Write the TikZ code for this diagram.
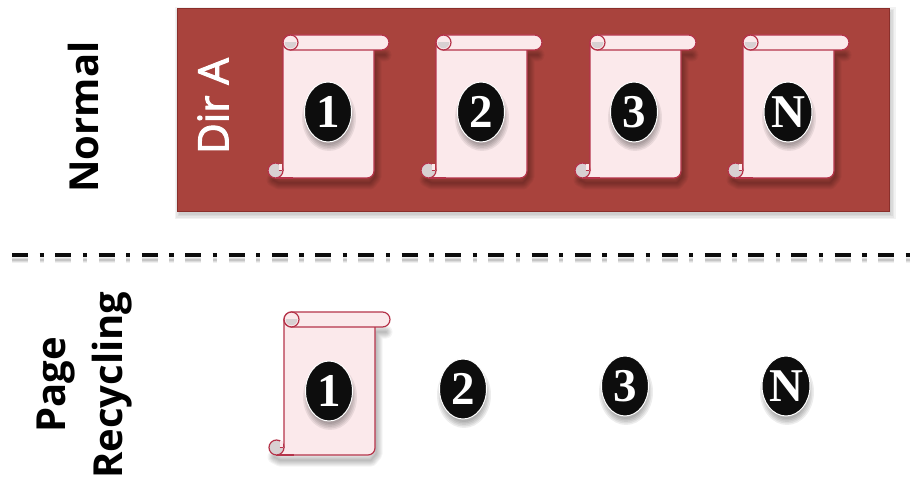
\documentclass[tikz,border=0pt]{standalone}
\usepackage{fontspec}
\setmainfont{Open Sans}
\newfontfamily\numfont{Liberation Serif}
\newfontfamily\dirfont[FakeBold=2.5]{Open Sans}
\usetikzlibrary{calc,shapes.geometric}
\definecolor{dirfill}{HTML}{A9433D}
\definecolor{dirline}{HTML}{8A2F2B}
\definecolor{scrollfill}{HTML}{FBE9EB}
\definecolor{scrollline}{HTML}{B5344A}
\definecolor{curlfill}{HTML}{D8D0D2}
\definecolor{badgefill}{HTML}{0D0D0D}
\tikzset{
  x=1pt,y=-1pt,
  dirbox/.style={draw=dirline,line width=1pt,fill=dirfill},
  sideLabel/.style={font=\fontsize{40}{57}\selectfont\bfseries,rotate=90,align=center,text=black},
  dirLabel/.style={font=\dirfont\fontsize{42}{50}\selectfont,rotate=90,text=white},
  badge/.style={ellipse,minimum width=47pt,minimum height=60pt,inner sep=0pt,fill=badgefill,draw=white,line width=1pt,text=white,font=\numfont\fontsize{47}{48}\selectfont\bfseries},
  scrollpart/.style={draw=scrollline,line width=1.2pt,fill=scrollfill,line join=round},
  divider/.style={line width=4pt,dash pattern=on 16pt off 11.5pt on 4.3pt off 11.5pt,draw=#1},
}
\newcommand{\scrollshape}[2]{%
  \begin{scope}[shift={(#1,#2)}]
    % soft shadow
    \foreach \w in {1,3,5,7,9,11,13}{
      \draw[black,draw opacity=0.045,line width=\w pt,line join=round,line cap=round,shift={(2,5)}]
        (-12,140) -- (-6,143) -- (85,143) -- (90,137) -- (90,15) -- (100,15);
    }
    % body
    \draw[scrollpart] (0,8) -- (0,143) [rounded corners=7] -- (91,143) -- (91,8) [sharp corners] -- cycle;
    \fill[scrollfill] (-8,136) rectangle (1,142.4);
    \draw[scrollline,line width=1.2pt] (-8,143) -- (10,143);
    % top roll
    \draw[scrollpart,rounded corners=7.5] (0,0) rectangle (106,15);
    % top curl
    \fill[scrollfill] (7.5,7.5) circle[radius=7];
    \begin{scope}
      \clip (0,8) rectangle (15,15);
      \fill[curlfill] (7.5,7.5) circle[radius=5.8];
    \end{scope}
    \draw[scrollline,line width=1.2pt] (7.5,7.5) circle[radius=7.5];
    % bottom curl
    \draw[scrollline,line width=1.2pt,fill=curlfill] (-7.5,135.5) circle[radius=7.5];
    \fill[scrollfill] (-4.5,129) rectangle (-0.6,135);
    \draw[scrollline,line width=.8pt] (-4.5,135) -- (-0.6,135);
  \end{scope}}
\newcommand{\badgeshadow}[2]{%
  \foreach \r in {0,1.5,3,4.5,6}{
    \fill[black,opacity=0.07] ($(#1,#2)+(1,6)$) ellipse[x radius=21+\r,y radius=27+\r];
  }}
\begin{document}
\begin{tikzpicture}
\useasboundingbox (0,0) rectangle (911,481);
\foreach \w in {0,3,6,9}{\fill[black,opacity=0.05] (177-\w/2+2,9-\w/2+3) rectangle (889+\w/2+2,212+\w/2+3);}
\draw[dirbox] (177,9) rectangle (889,212);
\node[dirLabel] (dira) at (213,106) {Dir A};
\node[sideLabel] (normal) at (83,117) {Normal};
\node[sideLabel] (page) at (85,385) {Page\\Recycling};
\foreach \a/\b in {283/35,436/35,590/35,743/35,284/312}{\scrollshape{\a}{\b}}
\foreach \x/\y in {328/112,481/112,634/112,788/112,329/391,463/389,625/386,786/386}{\badgeshadow{\x}{\y}}
\node[badge] (b1) at (328,112) {1};
\node[badge] (b2) at (481,112) {2};
\node[badge] (b3) at (634,112) {3};
\node[badge] (bn) at (788,112) {N};
\node[badge] (c1) at (329,391) {1};
\node[badge] (c2) at (463,389) {2};
\node[badge] (c3) at (625,386) {3};
\node[badge] (cn) at (786,386) {N};
\coordinate (dl) at (12,255.5);
\coordinate (dr) at (911,255.5);
\foreach \w/\o in {6/.06,4/.08,2/.1}{\draw[divider=black,opacity=\o,line width=\w pt] ($(dl)+(0,5)$) -- ($(dr)+(0,5)$);}
\draw[divider=badgefill] (dl) -- (dr);
\end{tikzpicture}
\end{document}
